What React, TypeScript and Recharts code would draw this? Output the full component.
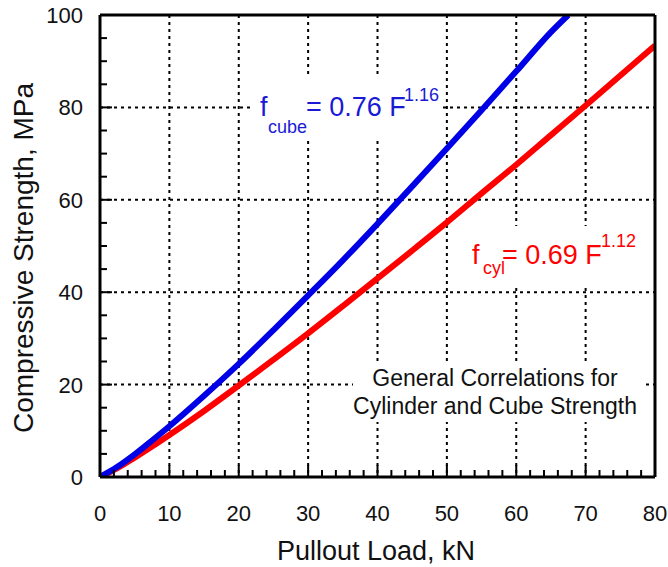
import React from 'react'
import { LineChart, Line, XAxis, YAxis, CartesianGrid } from 'recharts'

// pullout load (kN) vs compressive strength (MPa)
const cubeLoad = [0, 2.5, 5, 7.5, 10, 15, 20, 25, 30, 35, 40, 45, 50, 55, 60, 65, 67.5]
const cubeStrength = [0, 2.2, 4.9, 7.9, 11.0, 17.6, 24.5, 31.8, 39.3, 46.9, 54.8, 62.9, 71.1, 79.4, 87.8, 96.3, 100]

const cylLoad = [0, 2.5, 5, 7.5, 10, 15, 20, 25, 30, 35, 40, 45, 50, 55, 60, 65, 70, 75, 80]
const cylStrength = [0, 1.9, 4.2, 6.6, 9.1, 14.3, 19.8, 25.4, 31.1, 37.0, 43.0, 49.0, 55.1, 61.4, 67.6, 74.0, 80.4, 86.9, 93.4]

const xTicks = [0, 2, 4, 6, 8, 10, 12, 14, 16, 18, 20, 22, 24, 26, 28, 30, 32, 34, 36, 38, 40,
  42, 44, 46, 48, 50, 52, 54, 56, 58, 60, 62, 64, 66, 68, 70, 72, 74, 76, 78, 80]
const yTicks = [0, 5, 10, 15, 20, 25, 30, 35, 40, 45, 50, 55, 60, 65, 70, 75, 80, 85, 90, 95, 100]
const xGrid = [10, 20, 30, 40, 50, 60, 70]
const yGrid = [20, 40, 60, 80]

const cubeData = cubeLoad.map((load, i) => ({ load, value: cubeStrength[i] }))
const cylData = cylLoad.map((load, i) => ({ load, value: cylStrength[i] }))

const FONT = '"Liberation Sans", Arial, Helvetica, sans-serif'
const BLUE = '#0000e6'
const RED = '#ff0000'

const W = 668
const H = 567
// axes are 1px thick, so margins are 1px short of the plot edges
const margin = { top: 14, right: 12, bottom: 89, left: 99 }

const isMajorX = (v: number) => v % 10 === 0
const isMajorY = (v: number) => v % 20 === 0

const BottomTick = (props: any) => {
  const { x, y, payload } = props
  const v = payload.value
  return (
    <g>
      <line x1={x} x2={x} y1={y} y2={y - (isMajorX(v) ? 12 : 7)} stroke="#000" strokeWidth={2} />
      {isMajorX(v) && (
        <text x={x} y={y + 44} textAnchor="middle" fontSize={22} fontFamily={FONT} fill="#111">
          {v}
        </text>
      )}
    </g>
  )
}

const TopTick = (props: any) => {
  const { x, y, payload } = props
  const v = payload.value
  return <line x1={x} x2={x} y1={y} y2={y + (isMajorX(v) ? 12 : 7)} stroke="#000" strokeWidth={2} />
}

const LeftTick = (props: any) => {
  const { x, y, payload } = props
  const v = payload.value
  return (
    <g>
      <line x1={x} x2={x + (isMajorY(v) ? 12 : 7)} y1={y} y2={y} stroke="#000" strokeWidth={2} />
      {isMajorY(v) && (
        <text x={x - 17} y={y + 8} textAnchor="end" fontSize={22} fontFamily={FONT} fill="#111">
          {v}
        </text>
      )}
    </g>
  )
}

const RightTick = (props: any) => {
  const { x, y, payload } = props
  const v = payload.value
  return <line x1={x} x2={x - (isMajorY(v) ? 12 : 7)} y1={y} y2={y} stroke="#000" strokeWidth={2} />
}

const axisLine = { stroke: '#000', strokeWidth: 3 }

export default function App() {
  return (
    <div style={{ position: 'absolute', left: 0, top: 0, width: W, height: H, background: '#fff' }}>
      <LineChart width={W} height={H} margin={margin}>
        <CartesianGrid
          xAxisId={0}
          yAxisId={0}
          stroke="#000"
          strokeWidth={2}
          strokeDasharray="3 4"
          verticalValues={xGrid}
          horizontalValues={yGrid}
        />
        <XAxis
          xAxisId={0}
          dataKey="load"
          type="number"
          domain={[0, 80]}
          ticks={xTicks}
          interval={0}
          height={1}
          tickSize={0}
          tickMargin={0}
          axisLine={axisLine}
          tickLine={false}
          tick={BottomTick}
          allowDataOverflow
        />
        <XAxis
          xAxisId="t"
          orientation="top"
          type="number"
          domain={[0, 80]}
          ticks={xTicks}
          interval={0}
          height={1}
          tickSize={0}
          tickMargin={0}
          axisLine={axisLine}
          tickLine={false}
          tick={TopTick}
        />
        <YAxis
          yAxisId={0}
          type="number"
          domain={[0, 100]}
          ticks={yTicks}
          interval={0}
          width={1}
          tickSize={0}
          tickMargin={0}
          axisLine={axisLine}
          tickLine={false}
          tick={LeftTick}
          allowDataOverflow
        />
        <YAxis
          yAxisId="r"
          orientation="right"
          type="number"
          domain={[0, 100]}
          ticks={yTicks}
          interval={0}
          width={1}
          tickSize={0}
          tickMargin={0}
          axisLine={axisLine}
          tickLine={false}
          tick={RightTick}
        />
        <Line
          xAxisId={0}
          yAxisId={0}
          data={cylData}
          dataKey="value"
          type="monotone"
          stroke={RED}
          strokeWidth={6}
          dot={false}
          isAnimationActive={false}
        />
        <Line
          xAxisId={0}
          yAxisId={0}
          data={cubeData}
          dataKey="value"
          type="monotone"
          stroke={BLUE}
          strokeWidth={6}
          dot={false}
          isAnimationActive={false}
        />
      </LineChart>
      <svg
        width={W}
        height={H}
        style={{ position: 'absolute', left: 0, top: 0, pointerEvents: 'none' }}
        fontFamily={FONT}
      >
        <text transform="translate(33,258) rotate(-90)" textAnchor="middle" fontSize={28} fill="#111">
          Compressive Strength, MPa
        </text>
        <text x={376} y={560} textAnchor="middle" fontSize={27} fill="#111">
          Pullout Load, kN
        </text>

        {/* annotation boxes mask the grid like the original */}
        <rect x={250} y={76} width={192} height={62} fill="#fff" />
        <rect x={466} y={226} width={176} height={62} fill="#fff" />
        <rect x={353} y={362} width={289} height={60} fill="#fff" />

        <g fill="#1a1ad6">
          <text x={260} y={116} fontSize={27}>f</text>
          <text x={268} y={133} fontSize={18}>cube</text>
          <text x={306} y={116} fontSize={27}>= 0.76 F</text>
          <text x={404} y={101} fontSize={18}>1.16</text>
        </g>
        <g fill={RED}>
          <text x={472} y={264} fontSize={27}>f</text>
          <text x={483} y={274} fontSize={18}>cyl</text>
          <text x={502} y={264} fontSize={27}>= 0.69 F</text>
          <text x={601} y={247} fontSize={18}>1.12</text>
        </g>
        <g fill="#111" fontSize={23} textAnchor="middle">
          <text x={495} y={386}>General Correlations for</text>
          <text x={495} y={414}>Cylinder and Cube Strength</text>
        </g>
      </svg>
    </div>
  )
}
